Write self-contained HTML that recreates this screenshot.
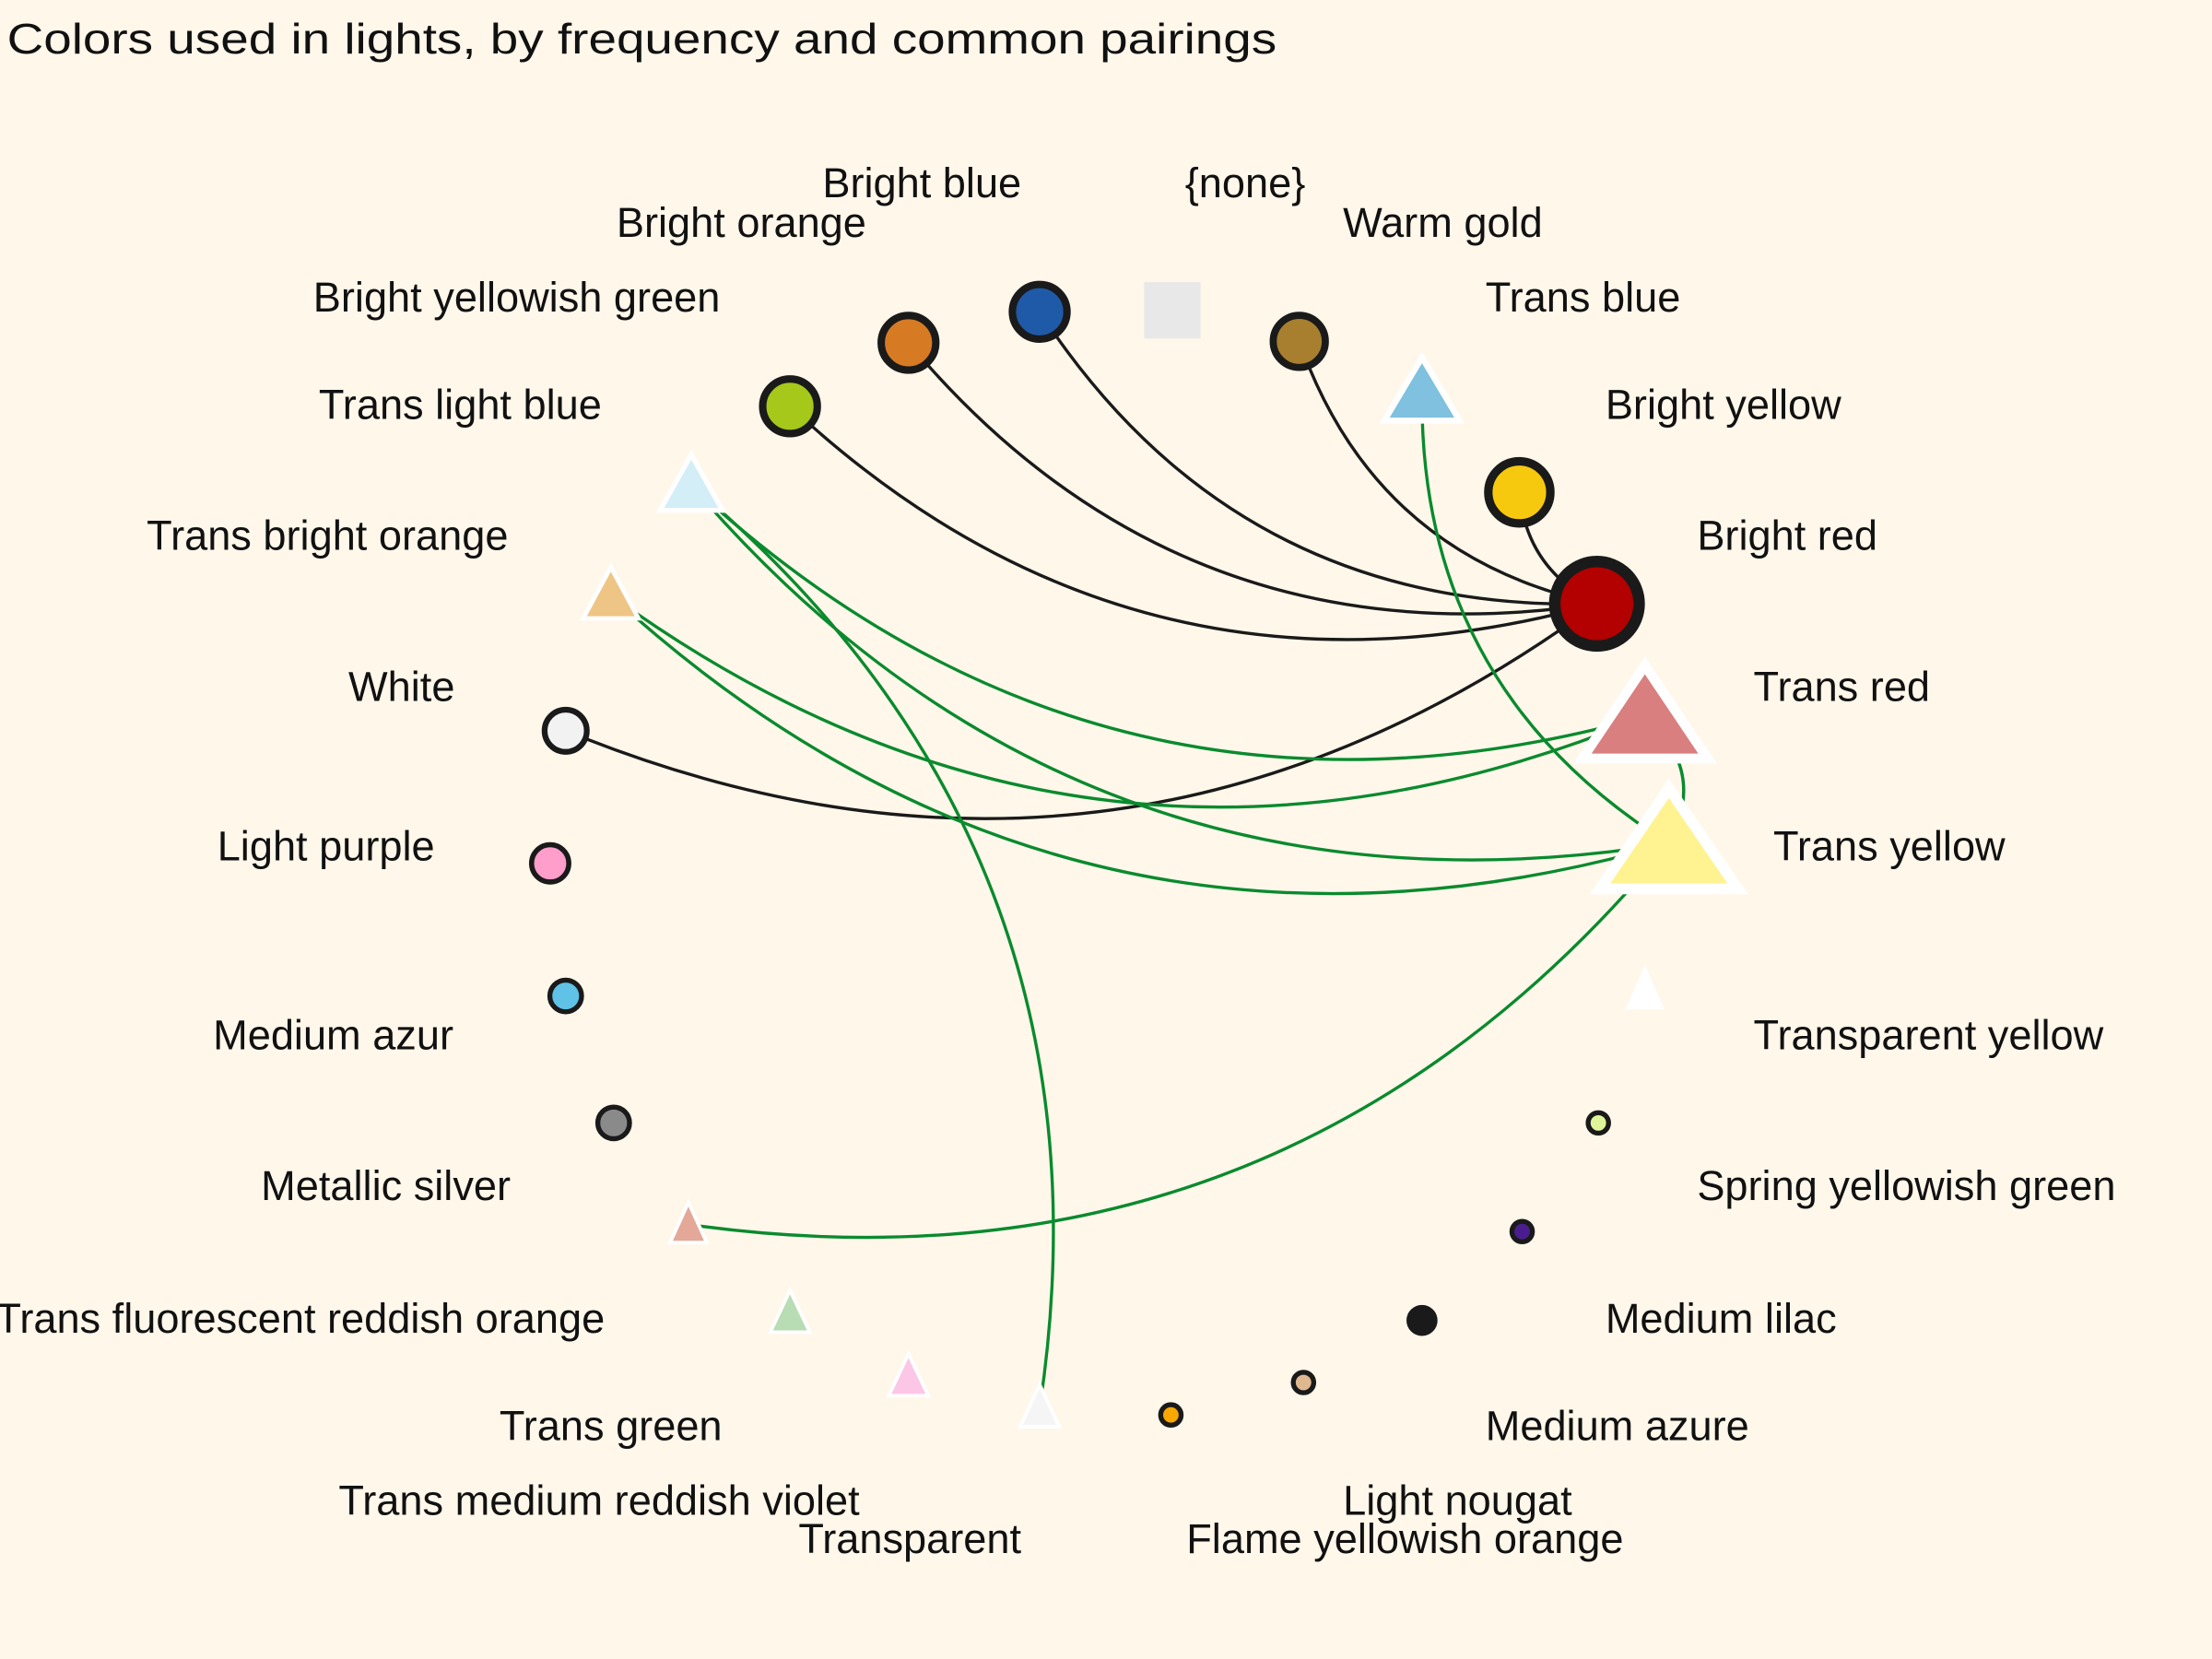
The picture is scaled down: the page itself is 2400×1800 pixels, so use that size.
<!DOCTYPE html>
<html><head><meta charset="utf-8"><style>
html,body{margin:0;padding:0;background:#fff7ea;}
svg{display:block;font-family:"Liberation Sans",sans-serif;}
</style></head><body>
<svg id="chart" width="2400" height="1800" viewBox="0 0 1568 1176" xmlns="http://www.w3.org/2000/svg">
<rect x="0" y="0" width="1568" height="1176" fill="#fff7ea"/>
<text x="5" y="30" font-size="30" textLength="900" lengthAdjust="spacingAndGlyphs" dominant-baseline="middle" fill="#111">Colors used in lights, by frequency and common pairings</text>
<g id="edges"></g>
<g id="nodes"></g>
<g id="labels"></g>
</svg>
<script>
const names = ["Bright red","Bright yellow","Warm gold","{none}","Bright blue","Bright orange","Bright yellowish green","White","Light purple","Medium azur","Metallic silver","Flame yellowish orange","Light nougat","Medium azure","Medium lilac","Spring yellowish green","Trans blue","Trans red","Trans yellow","Transparent yellow","Trans light blue","Trans bright orange","Trans fluorescent reddish orange","Trans green","Trans medium reddish violet","Transparent"];
const shapes = ["c","c","c","s","c","c","c","c","c","c","c","c","c","c","c","c","t","t","t","t","t","t","t","t","t","t"];
const sizes = [34,25,21,20,22,22,22,17,15,13,13,9,9,11,9,9,30,50,55,14,25,22,15,16,16,16];
const fills = ["#b30000","#f7c90e","#a87f2e","#e8e8e8","#1f5aa8","#d67b23","#a5c81a","#f2f2f2","#ff9dcb","#5fc2e6","#8a8a8a","#f8a800","#deb990","#1a1a1a","#4a1d8f","#e0f59a","#7fc1de","#d97f7f","#fff391","#ffffff","#d4eef8","#efc585","#e3a898","#b8dcb3","#fcc6e6","#f5f5f5"];
const nodeX = [1132,1077,921,831,737,644,560,401,390,401,435,830,924,1008,1079,1133,1008,1166,1183,1166,490,433,488,560,644,737];
const nodeY = [428,349,242,220,221,243,288,518,612,706,796,1003,980,936,873,796,278,508,598,702,344,422,868,931,976,998];
const labelX = [1203,1138,952,840,583,437,222,247,154,151,185,841,952,1053,1138,1203,1053,1243,1257,1243,226,104,-3,354,240,566];
const labelY = [382,289,160,132,132,160,213,489,602,736,843,1093,1066,1013,937,843,213,489,602,736,289,382,937,1013,1066,1093];
const edgeSource = [0,0,0,0,0,0,18,17,18,20,17,18,18];
const edgeTarget = [1,2,4,5,6,7,16,20,20,25,21,21,22];
const edgeColor = ["#1a1a1a","#1a1a1a","#1a1a1a","#1a1a1a","#1a1a1a","#1a1a1a","#0a8a2e","#0a8a2e","#0a8a2e","#0a8a2e","#0a8a2e","#0a8a2e","#0a8a2e"];
const extraEdgeSource = [17];
const extraEdgeTarget = [18];

const NS="http://www.w3.org/2000/svg";
const gE=document.getElementById('edges'),gN=document.getElementById('nodes'),gL=document.getElementById('labels');
function curve(a,b,bend){
  const x0=nodeX[a],y0=nodeY[a],x1=nodeX[b],y1=nodeY[b];
  const dx=x1-x0,dy=y1-y0;
  const cx=(x0+x1)/2+dy*bend, cy=(y0+y1)/2-dx*bend;
  return `M${x0},${y0} Q${cx},${cy} ${x1},${y1}`;
}
for(let i=0;i<edgeSource.length;i++){
  const p=document.createElementNS(NS,'path');
  p.setAttribute('d',curve(edgeSource[i],edgeTarget[i],0.28));
  p.setAttribute('fill','none');p.setAttribute('stroke',edgeColor[i]);p.setAttribute('stroke-width','2.2');
  
  
  gE.appendChild(p);
}
for(let i=0;i<extraEdgeSource.length;i++){
  const p=document.createElementNS(NS,'path');
  p.setAttribute('d',curve(extraEdgeSource[i],extraEdgeTarget[i],0.4));
  p.setAttribute('fill','none');p.setAttribute('stroke','#0a8a2e');p.setAttribute('stroke-width','2.2');
  
  
  gE.appendChild(p);
}
for(let i=0;i<names.length;i++){
  const x=nodeX[i],y=nodeY[i],s=sizes[i];
  let el;
  if(shapes[i]==='c'){
    el=document.createElementNS(NS,'circle');
    el.setAttribute('cx',x);el.setAttribute('cy',y);
    const sw=Math.max(3.5,s*0.24);
    el.setAttribute('r',s-sw/2);el.setAttribute('fill',fills[i]);
    el.setAttribute('stroke','#1a1a1a');el.setAttribute('stroke-width',sw);
  }else if(shapes[i]==='s'){
    el=document.createElementNS(NS,'rect');
    el.setAttribute('x',x-s);el.setAttribute('y',y-s);el.setAttribute('width',2*s);el.setAttribute('height',2*s);
    el.setAttribute('fill',fills[i]);
  }else{
    el=document.createElementNS(NS,'polygon');
    const sw=Math.max(2.5,s*0.14);
    const H=1.2*s+13-sw, hw=s-sw*0.8;
    el.setAttribute('points',`${x},${y-H*0.55} ${x+hw},${y+H*0.45} ${x-hw},${y+H*0.45}`);
    el.setAttribute('fill',fills[i]);el.setAttribute('stroke','#ffffff');
    el.setAttribute('stroke-width',sw);el.setAttribute('stroke-linejoin','miter');
  }
  
  
  gN.appendChild(el);
  const t=document.createElementNS(NS,'text');
  t.setAttribute('x',labelX[i]);t.setAttribute('y',labelY[i]);
  t.setAttribute('font-size','29.5');t.setAttribute('dominant-baseline','middle');t.setAttribute('fill','#111');
  t.textContent=names[i];
  
  
  gL.appendChild(t);
}
</script>
</body></html>
